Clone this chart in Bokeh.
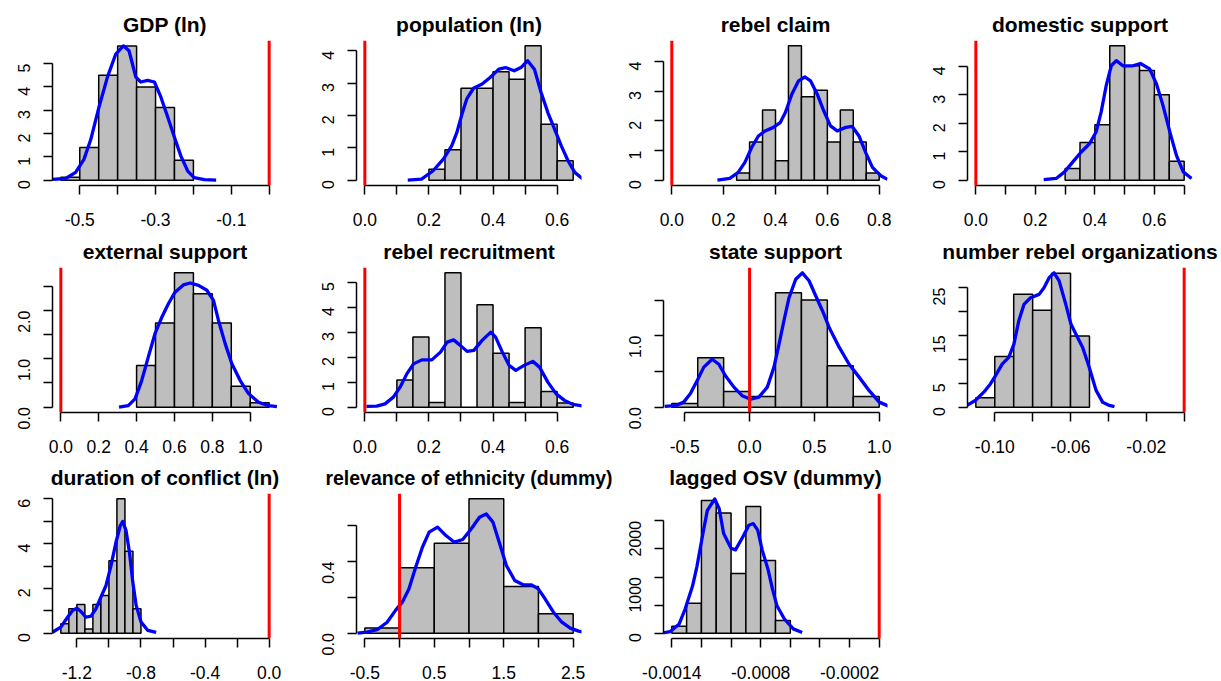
import math
from bokeh.plotting import figure
from bokeh.models import Range1d, FixedTicker, Span
from bokeh.layouts import column, row
from bokeh.embed import file_html
from bokeh.resources import INLINE

REF_VALUE = 0.0

# ---------------- data ----------------
titles = ["GDP (ln)", "population (ln)", "rebel claim", "domestic support",
          "external support", "rebel recruitment", "state support",
          "number rebel organizations", "duration of conflict (ln)",
          "relevance of ethnicity (dummy)", "lagged OSV (dummy)"]

# 1 GDP (ln)
gdp_breaks = [-0.55, -0.50, -0.45, -0.40, -0.35, -0.30, -0.25, -0.20]
gdp_dens = [0.12, 1.40, 4.50, 5.75, 4.00, 3.12, 0.85]
gdp_kx = [-0.572, -0.537, -0.511, -0.489, -0.471, -0.449, -0.427, -0.405, -0.385, -0.370, -0.352,
          -0.339, -0.321, -0.303, -0.286, -0.268, -0.251, -0.233, -0.215, -0.198, -0.171, -0.140]
gdp_ky = [0.03, 0.07, 0.33, 0.89, 1.74, 3.15, 4.42, 5.41, 5.76, 5.55, 4.42,
          4.21, 4.28, 4.21, 3.57, 2.72, 1.88, 1.03, 0.39, 0.11, 0.02, 0.0]
gdp_xticks = [-0.5, -0.4, -0.3, -0.2, -0.1, 0.0]
gdp_xlabels = ["-0.5", "", "-0.3", "", "-0.1", ""]
gdp_yticks = [0, 1, 2, 3, 4, 5]
gdp_ylabels = ["0", "1", "2", "3", "4", "5"]

# 2 population (ln)
pop_breaks = [0.20, 0.25, 0.30, 0.35, 0.40, 0.45, 0.50, 0.55, 0.60, 0.65]
pop_dens = [0.34, 0.94, 2.84, 2.84, 3.35, 3.12, 4.15, 1.73, 0.60]
pop_kx = [0.134, 0.177, 0.213, 0.245, 0.271, 0.287, 0.303, 0.318, 0.339, 0.366, 0.392, 0.418,
          0.439, 0.466, 0.487, 0.508, 0.529, 0.550, 0.571, 0.592, 0.613, 0.634, 0.655, 0.681]
pop_ky = [0.0, 0.03, 0.29, 0.65, 1.06, 1.47, 2.04, 2.51, 2.84, 2.97, 3.18, 3.43,
          3.48, 3.38, 3.48, 3.69, 3.43, 2.71, 2.09, 1.58, 1.06, 0.60, 0.24, 0.03]
pop_xticks = [0.0, 0.1, 0.2, 0.3, 0.4, 0.5, 0.6]
pop_xlabels = ["0.0", "", "0.2", "", "0.4", "", "0.6"]
pop_yticks = [0, 1, 2, 3, 4]
pop_ylabels = ["0", "1", "2", "3", "4"]

# 3 rebel claim
claim_breaks = [0.25, 0.30, 0.35, 0.40, 0.45, 0.50, 0.55, 0.60, 0.65, 0.70, 0.75, 0.80]
claim_dens = [0.24, 1.29, 2.37, 0.65, 4.53, 2.81, 3.03, 1.29, 2.37, 1.29, 0.24]
claim_kx = [0.176, 0.224, 0.256, 0.282, 0.308, 0.334, 0.360, 0.392, 0.418, 0.438, 0.463, 0.489, 0.513,
            0.535, 0.561, 0.586, 0.612, 0.638, 0.671, 0.696, 0.722, 0.748, 0.774, 0.806, 0.832]
claim_ky = [0.0, 0.06, 0.26, 0.60, 1.10, 1.49, 1.66, 1.78, 1.94, 2.28, 2.90, 3.35, 3.48,
            3.35, 2.90, 2.34, 1.83, 1.66, 1.78, 1.81, 1.49, 0.93, 0.43, 0.15, 0.03]
claim_xticks = [0.0, 0.2, 0.4, 0.6, 0.8]
claim_xlabels = ["0.0", "0.2", "0.4", "0.6", "0.8"]
claim_yticks = [0, 1, 2, 3, 4]
claim_ylabels = ["0", "1", "2", "3", "4"]

# 4 domestic support
dom_breaks = [0.30, 0.35, 0.40, 0.45, 0.50, 0.55, 0.60, 0.65, 0.70]
dom_dens = [0.41, 1.32, 1.95, 4.72, 4.02, 3.85, 3.00, 0.66]
dom_kx = [0.228, 0.270, 0.298, 0.326, 0.354, 0.382, 0.404, 0.421, 0.438, 0.455, 0.472,
          0.494, 0.528, 0.553, 0.584, 0.607, 0.629, 0.652, 0.674, 0.697, 0.725]
dom_ky = [0.02, 0.06, 0.29, 0.64, 0.99, 1.28, 1.69, 2.39, 3.32, 4.02, 4.20,
          4.02, 4.02, 4.10, 3.91, 3.38, 2.62, 1.69, 0.87, 0.29, 0.06]
dom_xticks = [0.0, 0.1, 0.2, 0.3, 0.4, 0.5, 0.6, 0.7]
dom_xlabels = ["0.0", "", "0.2", "", "0.4", "", "0.6", ""]
dom_yticks = [0, 1, 2, 3, 4]
dom_ylabels = ["0", "1", "2", "3", "4"]

# 5 external support
ext_breaks = [0.4, 0.5, 0.6, 0.7, 0.8, 0.9, 1.0, 1.1]
ext_dens = [0.86, 1.74, 2.78, 2.35, 1.74, 0.43, 0.09]
ext_kx = [0.307, 0.356, 0.392, 0.427, 0.462, 0.497, 0.533, 0.568, 0.603, 0.647, 0.683,
          0.727, 0.771, 0.806, 0.832, 0.868, 0.903, 0.947, 0.991, 1.044, 1.097, 1.141]
ext_ky = [0.0, 0.03, 0.17, 0.55, 1.04, 1.52, 1.86, 2.14, 2.38, 2.53, 2.57,
          2.52, 2.42, 2.21, 1.80, 1.31, 0.90, 0.55, 0.28, 0.10, 0.03, 0.01]
ext_xticks = [0.0, 0.2, 0.4, 0.6, 0.8, 1.0]
ext_xlabels = ["0.0", "0.2", "0.4", "0.6", "0.8", "1.0"]
ext_yticks = [0.0, 0.5, 1.0, 1.5, 2.0, 2.5]
ext_ylabels = ["0.0", "", "1.0", "", "2.0", ""]

# 6 rebel recruitment
rec_breaks = [0.10, 0.15, 0.20, 0.25, 0.30, 0.35, 0.40, 0.45, 0.50, 0.55, 0.60, 0.65]
rec_dens = [1.09, 2.80, 0.19, 5.37, 0.0, 4.09, 2.16, 0.19, 3.17, 0.63, 0.17]
rec_kx = [0.005, 0.037, 0.063, 0.089, 0.110, 0.131, 0.152, 0.178, 0.209, 0.236, 0.257, 0.277, 0.298, 0.319, 0.340,
          0.366, 0.393, 0.408, 0.429, 0.450, 0.471, 0.497, 0.524, 0.545, 0.571, 0.597, 0.623, 0.649, 0.681]
rec_ky = [0.03, 0.04, 0.13, 0.40, 0.80, 1.33, 1.73, 1.89, 1.89, 2.20, 2.60, 2.69, 2.47, 2.23, 2.27,
          2.67, 3.00, 2.80, 2.20, 1.67, 1.47, 1.67, 1.83, 1.60, 1.00, 0.53, 0.27, 0.11, 0.04]
rec_xticks = [0.0, 0.1, 0.2, 0.3, 0.4, 0.5, 0.6]
rec_xlabels = ["0.0", "", "0.2", "", "0.4", "", "0.6"]
rec_yticks = [0, 1, 2, 3, 4, 5]
rec_ylabels = ["0", "1", "2", "3", "4", "5"]

# 7 state support
st_breaks = [-0.6, -0.4, -0.2, 0.0, 0.2, 0.4, 0.6, 0.8, 1.0]
st_dens = [0.05, 0.69, 0.22, 0.15, 1.60, 1.50, 0.58, 0.15]
st_kx = [-0.655, -0.572, -0.508, -0.456, -0.405, -0.353, -0.289, -0.237, -0.186, -0.121, -0.057, 0.008, 0.072, 0.137, 0.188,
         0.227, 0.265, 0.304, 0.356, 0.407, 0.459, 0.510, 0.562, 0.613, 0.691, 0.768, 0.845, 0.923, 1.000, 1.077]
st_ky = [0.01, 0.02, 0.07, 0.19, 0.37, 0.56, 0.67, 0.60, 0.44, 0.28, 0.16, 0.11, 0.14, 0.28, 0.56,
         0.88, 1.21, 1.53, 1.79, 1.88, 1.77, 1.56, 1.35, 1.12, 0.84, 0.60, 0.42, 0.23, 0.07, 0.01]
st_xticks = [-0.5, 0.0, 0.5, 1.0]
st_xlabels = ["-0.5", "0.0", "0.5", "1.0"]
st_yticks = [0.0, 0.5, 1.0, 1.5]
st_ylabels = ["0.0", "", "1.0", ""]

# 8 number rebel organizations
org_breaks = [-0.11, -0.10, -0.09, -0.08, -0.07, -0.06, -0.05]
org_dens = [1.94, 10.6, 23.6, 20.3, 28.0, 14.9]
org_kx = [-0.1147, -0.1103, -0.1058, -0.1023, -0.0996, -0.0961, -0.0926, -0.0899, -0.0873, -0.0846, -0.0811, -0.0766, -0.0740,
          -0.0713, -0.0687, -0.0660, -0.0625, -0.0598, -0.0572, -0.0536, -0.0501, -0.0465, -0.0430, -0.0395, -0.0368]
org_ky = [0.35, 1.39, 3.13, 4.86, 6.6, 9.0, 10.4, 13.2, 18.1, 21.5, 22.9, 23.6, 25.0,
          27.1, 28.1, 26.4, 21.5, 17.4, 15.3, 12.5, 8.3, 3.5, 1.0, 0.35, 0.1]
org_xticks = [-0.10, -0.08, -0.06, -0.04, -0.02, 0.0]
org_xlabels = ["-0.10", "", "-0.06", "", "-0.02", ""]
org_yticks = [0, 5, 10, 15, 20, 25]
org_ylabels = ["0", "5", "", "15", "", "25"]

# 9 duration of conflict (ln)
dur_breaks = [-1.30, -1.25, -1.20, -1.15, -1.10, -1.05, -1.00, -0.95, -0.90, -0.85, -0.80]
dur_dens = [0.42, 1.09, 1.28, 0.19, 1.28, 1.68, 3.24, 6.00, 3.66, 1.09]
dur_kx = [-1.352, -1.300, -1.258, -1.227, -1.200, -1.175, -1.144, -1.112, -1.081, -1.050, -1.018,
          -0.987, -0.956, -0.929, -0.914, -0.893, -0.872, -0.851, -0.830, -0.799, -0.757, -0.705]
dur_ky = [0.04, 0.27, 0.71, 1.01, 1.12, 0.97, 0.71, 0.76, 1.09, 1.61, 2.13,
          3.02, 4.06, 4.81, 4.99, 4.58, 3.62, 2.28, 1.24, 0.49, 0.12, 0.03]
dur_xticks = [-1.2, -1.0, -0.8, -0.6, -0.4, -0.2, 0.0]
dur_xlabels = ["-1.2", "", "-0.8", "", "-0.4", "", "0.0"]
dur_yticks = [0, 1, 2, 3, 4, 5, 6]
dur_ylabels = ["0", "", "2", "", "4", "", "6"]

# 10 relevance of ethnicity (dummy)
eth_breaks = [-0.5, 0.0, 0.5, 1.0, 1.5, 2.0, 2.5]
eth_dens = [0.028, 0.365, 0.502, 0.750, 0.260, 0.108]
eth_kx = [-0.605, -0.469, -0.324, -0.179, -0.058, 0.039, 0.135, 0.232, 0.329, 0.426, 0.547, 0.668, 0.789, 0.910, 1.031,
          1.151, 1.248, 1.345, 1.442, 1.538, 1.659, 1.780, 1.901, 1.998, 2.095, 2.216, 2.337, 2.458, 2.579, 2.651]
eth_ky = [0.0, 0.006, 0.019, 0.061, 0.127, 0.173, 0.247, 0.368, 0.480, 0.564, 0.592, 0.545, 0.508, 0.523, 0.582,
          0.647, 0.666, 0.620, 0.499, 0.378, 0.294, 0.270, 0.270, 0.247, 0.192, 0.117, 0.061, 0.028, 0.011, 0.006]
eth_xticks = [-0.5, 0.0, 0.5, 1.0, 1.5, 2.0, 2.5]
eth_xlabels = ["-0.5", "", "0.5", "", "1.5", "", "2.5"]
eth_yticks = [0.0, 0.2, 0.4, 0.6]
eth_ylabels = ["0.0", "", "0.4", ""]

# 11 lagged OSV (dummy)
osv_breaks = [-0.0014, -0.0013, -0.0012, -0.0011, -0.0010, -0.0009, -0.0008, -0.0007, -0.0006]
osv_dens = [123, 534, 2364, 2141, 1062, 2258, 1296, 223]
osv_kx = [-0.00147, -0.00141, -0.00135, -0.00131, -0.00126, -0.00123, -0.00119, -0.00116, -0.00111, -0.00108, -0.00105, -0.00100,
          -0.00097, -0.00092, -0.00088, -0.00085, -0.00082, -0.00079, -0.00075, -0.00072, -0.00069, -0.00064, -0.00058, -0.00052]
osv_ky = [0, 29, 164, 428, 839, 1191, 1777, 2188, 2393, 2217, 1777, 1513,
          1484, 1718, 1924, 1953, 1836, 1484, 1132, 780, 487, 252, 76, 12]
osv_xticks = [-0.0014, -0.0012, -0.0010, -0.0008, -0.0006, -0.0004, -0.0002, 0.0]
osv_xlabels = ["-0.0014", "", "", "-0.0008", "", "", "-0.0002", ""]
osv_yticks = [0, 500, 1000, 1500, 2000]
osv_ylabels = ["0", "", "1000", "", "2000"]

panels = [
    (gdp_breaks, gdp_dens, gdp_kx, gdp_ky, gdp_xticks, gdp_xlabels, gdp_yticks, gdp_ylabels),
    (pop_breaks, pop_dens, pop_kx, pop_ky, pop_xticks, pop_xlabels, pop_yticks, pop_ylabels),
    (claim_breaks, claim_dens, claim_kx, claim_ky, claim_xticks, claim_xlabels, claim_yticks, claim_ylabels),
    (dom_breaks, dom_dens, dom_kx, dom_ky, dom_xticks, dom_xlabels, dom_yticks, dom_ylabels),
    (ext_breaks, ext_dens, ext_kx, ext_ky, ext_xticks, ext_xlabels, ext_yticks, ext_ylabels),
    (rec_breaks, rec_dens, rec_kx, rec_ky, rec_xticks, rec_xlabels, rec_yticks, rec_ylabels),
    (st_breaks, st_dens, st_kx, st_ky, st_xticks, st_xlabels, st_yticks, st_ylabels),
    (org_breaks, org_dens, org_kx, org_ky, org_xticks, org_xlabels, org_yticks, org_ylabels),
    (dur_breaks, dur_dens, dur_kx, dur_ky, dur_xticks, dur_xlabels, dur_yticks, dur_ylabels),
    (eth_breaks, eth_dens, eth_kx, eth_ky, eth_xticks, eth_xlabels, eth_yticks, eth_ylabels),
    (osv_breaks, osv_dens, osv_kx, osv_ky, osv_xticks, osv_xlabels, osv_yticks, osv_ylabels),
]

# ---------------- layout ----------------
FONT = "Liberation Sans"
FRAME_W = 225
FRAME_H = 145
col_left = [52, 51, 42, 52]
col_width = [305, 315, 295, 306]
row_top = [40, 38, 37]
row_bottom = [44, 44, 43]
title_size = ["21px"] * 9 + ["19.5px", "21px"]


def make_panel(idx, spec):
    breaks, dens, kx, ky, xt, xl, yt, yl = spec
    r, c = divmod(idx, 4)
    lo = min(breaks[0], REF_VALUE)
    hi = max(breaks[-1], REF_VALUE)
    pad = 0.04 * (hi - lo)
    ymax = max(max(dens), max(ky))
    left = col_left[c]
    width = col_width[c]
    right = width - left - FRAME_W
    height = row_top[r] + FRAME_H + row_bottom[r]
    p = figure(width=width, height=height,
               x_range=Range1d(lo - pad, hi + pad),
               y_range=Range1d(-0.04 * ymax, 1.04 * ymax),
               output_backend="svg", toolbar_location=None, tools="",
               min_border_left=left, min_border_right=right,
               min_border_top=row_top[r], min_border_bottom=row_bottom[r],
               title=titles[idx])
    p.quad(left=breaks[:-1], right=breaks[1:], bottom=0, top=dens,
           fill_color="#BEBEBE", line_color="black", line_width=1.5)
    p.line(kx, ky, line_color="#0000FF", line_width=3.3, line_join="round")
    p.add_layout(Span(location=REF_VALUE, dimension="height",
                      line_color="#FF0000", line_width=3))

    p.title.align = "center"
    p.title.text_font = FONT
    p.title.text_font_style = "bold"
    p.title.text_font_size = title_size[idx]
    p.title.text_color = "black"
    p.title.standoff = 10

    p.xgrid.visible = False
    p.ygrid.visible = False
    p.outline_line_color = None
    p.background_fill_color = "white"
    p.border_fill_color = "white"

    for ax, ticks, labels, fs in ((p.xaxis[0], xt, xl, "17.5px"), (p.yaxis[0], yt, yl, "16px")):
        ax.ticker = FixedTicker(ticks=ticks)
        ax.major_label_overrides = {t: l for t, l in zip(ticks, labels)}
        ax.bounds = (ticks[0], ticks[-1])
        ax.minor_tick_line_color = None
        ax.major_tick_in = 0
        ax.major_tick_out = 9
        ax.axis_line_width = 1.5
        ax.major_tick_line_width = 1.5
        ax.axis_line_color = "black"
        ax.major_tick_line_color = "black"
        ax.major_label_text_font = FONT
        ax.major_label_text_font_size = fs
        ax.major_label_text_color = "black"
    p.xaxis.major_label_standoff = 18
    p.yaxis.major_label_standoff = 19
    p.yaxis.major_label_orientation = math.pi / 2
    return p


figs = [make_panel(i, s) for i, s in enumerate(panels)]
layout = column(row(*figs[0:4]), row(*figs[4:8]), row(*figs[8:11]))

open("out.html", "w").write(file_html(layout, INLINE))
